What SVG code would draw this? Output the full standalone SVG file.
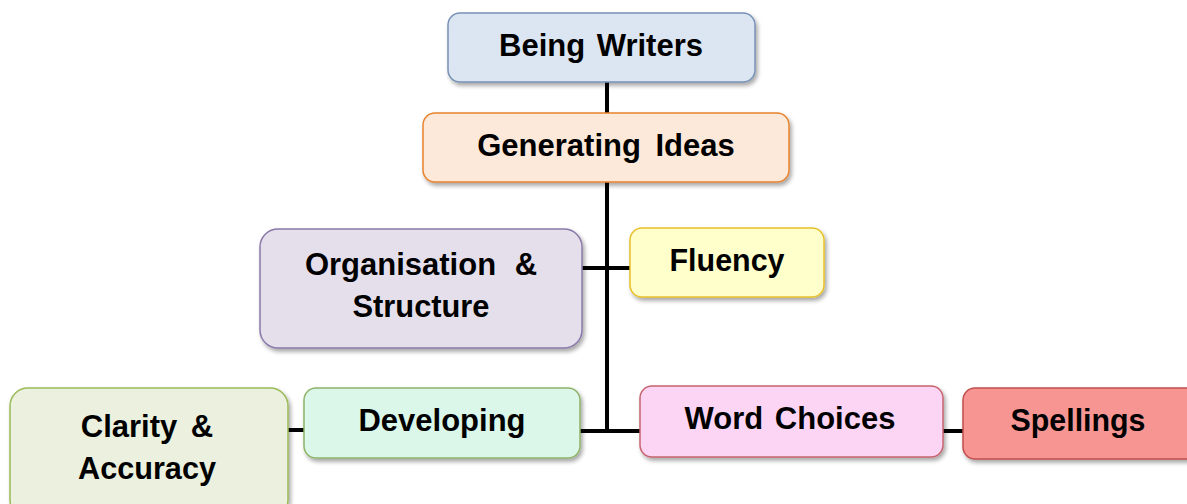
<svg xmlns="http://www.w3.org/2000/svg" width="1187" height="504" viewBox="0 0 1187 504">
<defs>
<filter id="sh" x="-10%" y="-10%" width="125%" height="135%">
<feDropShadow dx="2" dy="3" stdDeviation="2" flood-color="#000" flood-opacity="0.35"/>
</filter>
<style>
.box{stroke-width:1.5;filter:url(#sh)}
.t{font-family:"Liberation Sans",Arial,sans-serif;font-weight:bold;font-size:31px;fill:#000;text-anchor:middle}
.c{stroke:#000;stroke-width:4;fill:none}
</style>
</defs>
<rect width="1187" height="504" fill="#fff"/>
<g id="connectors">
<line class="c" x1="607" y1="82" x2="607" y2="113"/>
<line class="c" x1="607" y1="182" x2="607" y2="432"/>
<line class="c" x1="582" y1="268" x2="630" y2="268"/>
<line class="c" x1="580" y1="431" x2="640" y2="431"/>
<line class="c" x1="943" y1="431" x2="963" y2="431"/>
<line class="c" x1="288" y1="430" x2="304" y2="430"/>
</g>
<g id="being-writers">
<rect class="box" x="448" y="13" width="307" height="69" rx="12" fill="#dce6f2" stroke="#7891b5"/>
<text class="t" x="601" y="56" word-spacing="3">Being Writers</text>
</g>
<g id="generating-ideas">
<rect class="box" x="423" y="113" width="366" height="69" rx="12" fill="#fde9d9" stroke="#e8832f"/>
<text class="t" x="606" y="156" word-spacing="6">Generating Ideas</text>
</g>
<g id="organisation">
<rect class="box" x="260" y="229" width="322" height="119" rx="18" fill="#e5dfec" stroke="#8a7aa8"/>
<text class="t" x="421" y="275" word-spacing="10">Organisation &amp;</text>
<text class="t" x="421" y="317" textLength="137" lengthAdjust="spacingAndGlyphs">Structure</text>
</g>
<g id="fluency">
<rect class="box" x="630" y="228" width="194" height="69" rx="12" fill="#ffffcc" stroke="#e8c02a"/>
<text class="t" x="727" y="271" textLength="115" lengthAdjust="spacingAndGlyphs">Fluency</text>
</g>
<g id="clarity">
<rect class="box" x="10" y="388" width="278" height="130" rx="18" fill="#ebf1de" stroke="#9bbb59"/>
<text class="t" x="147" y="437" word-spacing="5">Clarity &amp;</text>
<text class="t" x="147" y="479" textLength="138" lengthAdjust="spacingAndGlyphs">Accuracy</text>
</g>
<g id="developing">
<rect class="box" x="304" y="388" width="276" height="70" rx="12" fill="#dbf7ea" stroke="#8fb36a"/>
<text class="t" x="442" y="431" textLength="167" lengthAdjust="spacingAndGlyphs">Developing</text>
</g>
<g id="word-choices">
<rect class="box" x="640" y="386" width="303" height="71" rx="12" fill="#fcd5f5" stroke="#c8646e"/>
<text class="t" x="790" y="429" word-spacing="3">Word Choices</text>
</g>
<g id="spellings">
<rect class="box" x="963" y="388" width="240" height="71" rx="12" fill="#f79593" stroke="#c0504d"/>
<text class="t" x="1078" y="431" textLength="135" lengthAdjust="spacingAndGlyphs">Spellings</text>
</g>
</svg>
